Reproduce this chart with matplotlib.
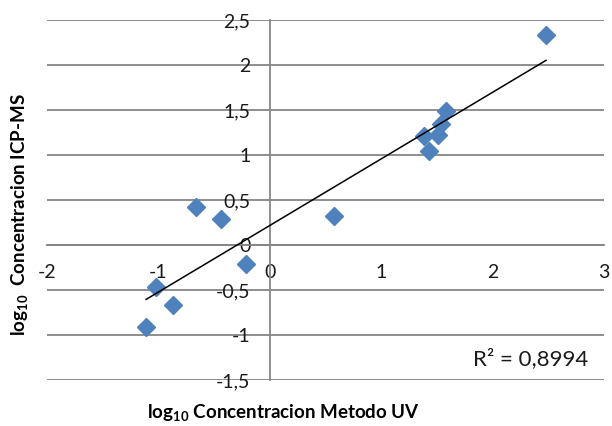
import numpy as np
import matplotlib
matplotlib.use("Agg")
from matplotlib import pyplot as plt
from matplotlib.ticker import FuncFormatter

# log10 concentrations, UV method vs ICP-MS
uv = [2.48, 1.58, 1.54, 1.51, 1.38, 1.43, 0.58, -0.66, -0.44, -0.21, -1.02, -0.87, -1.11]
icp = [2.33, 1.49, 1.34, 1.22, 1.21, 1.04, 0.32, 0.42, 0.29, -0.21, -0.47, -0.67, -0.91]
r2_label = "R² = 0,8994"

x_ticks = [-2, -1, 0, 1, 2, 3]
y_ticks = [-1.5, -1, -0.5, 0, 0.5, 1, 1.5, 2, 2.5]

plt.rcParams['font.family'] = ['Lato', 'DejaVu Sans']
plt.rcParams['mathtext.fontset'] = 'custom'
plt.rcParams['mathtext.rm'] = 'Lato'
plt.rcParams['mathtext.bf'] = 'Lato:bold'
plt.rcParams['axes.unicode_minus'] = False

grey = '#868686'

fig = plt.figure(figsize=(6.12, 4.26), dpi=100)
ax = fig.add_axes([47 / 612, 46 / 426, 557 / 612, 360 / 426])

ax.set_xlim(-2, 3)
ax.set_ylim(-1.5, 2.5)
ax.set_xticks(x_ticks)
ax.set_yticks(y_ticks)

comma = FuncFormatter(lambda v, pos: ('%g' % v).replace('.', ','))
ax.xaxis.set_major_formatter(comma)
ax.yaxis.set_major_formatter(comma)

ax.grid(axis='y', color=grey, lw=1.3)
ax.set_axisbelow(True)
for side in ('top', 'right'):
    ax.spines[side].set_visible(False)
# axes cross at the origin
for side in ('left', 'bottom'):
    ax.spines[side].set_position(('data', 0))
    ax.spines[side].set_color(grey)
    ax.spines[side].set_linewidth(1.3)
ax.tick_params(axis='both', length=0, labelsize=14, labelcolor='#1a1a1a', pad=14)

ax.plot(uv, icp, 'D', color='#4F81BD', ms=9.5, mec='#4F81BD', zorder=3)

# linear trend line over the data range
slope, inter = np.polyfit(uv, icp, 1)
xs = np.array([min(uv), max(uv)])
ax.plot(xs, slope * xs + inter, color='black', lw=1.1, zorder=4)

ax.text(2.86, -1.26, r2_label, ha='right', va='center', fontsize=16, color='#1a1a1a')

fig.text(283 / 612, 1 - 413 / 426, r'log$_{\mathbf{10}}$ Concentracion Metodo UV',
         ha='center', va='center', fontsize=13.5, fontweight='bold')
fig.text(20 / 612, 1 - 215 / 426, r'log$_{\mathbf{10}}$  Concentracion ICP-MS',
         ha='center', va='center', rotation=90, fontsize=13.5, fontweight='bold')

fig.savefig('out.png', dpi=100)
